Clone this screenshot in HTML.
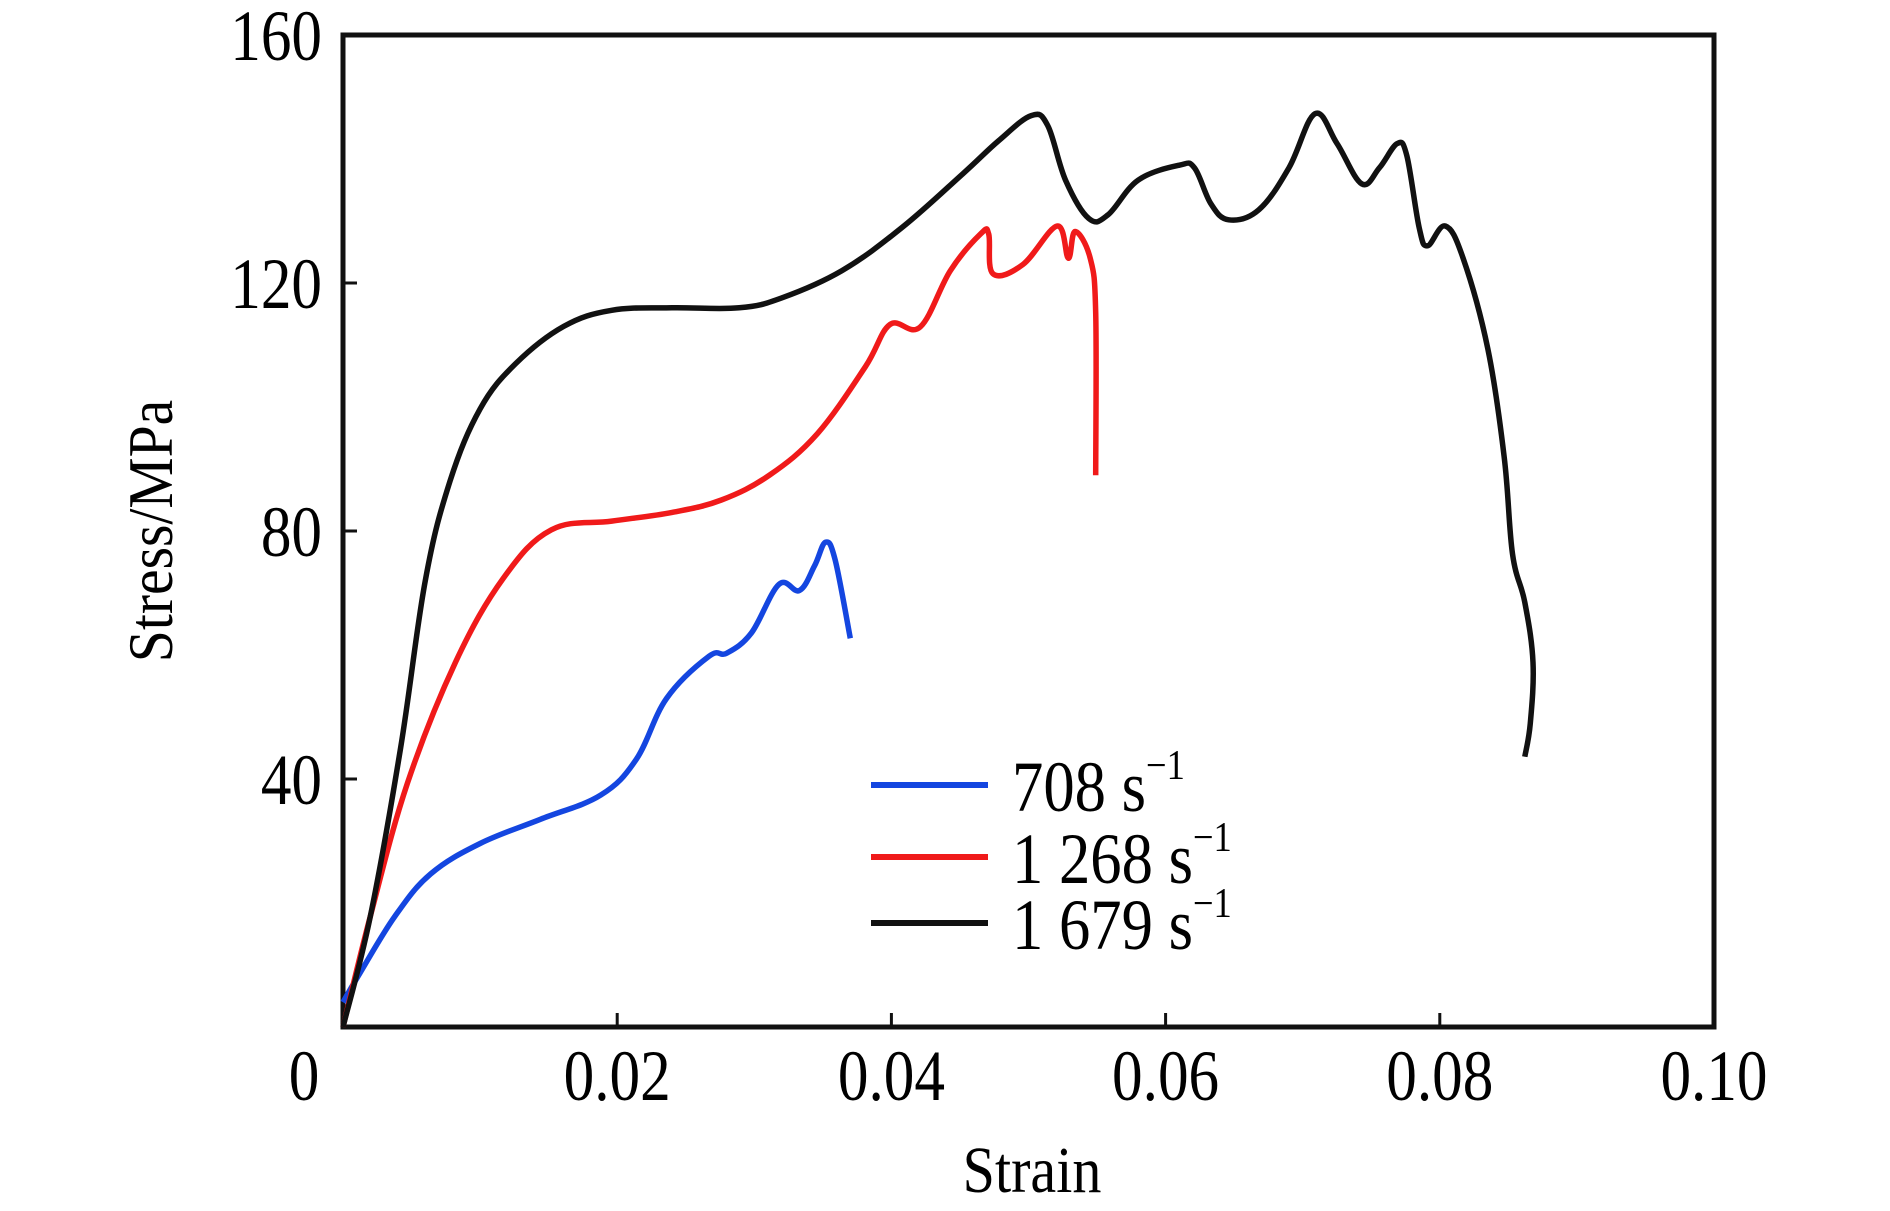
<!DOCTYPE html>
<html><head><meta charset="utf-8"><style>
html,body{margin:0;padding:0;background:#fff;}
svg{display:block;font-family:"Liberation Serif",serif;}
</style></head><body>
<svg id="chart" width="1890" height="1211" viewBox="0 0 1890 1211" xmlns="http://www.w3.org/2000/svg">
<g id="axes"></g>
<g id="series"></g>
<g id="legend"></g>
<text x="0" y="0" font-size="66" text-anchor="middle" transform="translate(1032,1192) scale(0.88,1)">Strain</text>
<text x="0" y="0" font-size="64" text-anchor="middle" transform="translate(172,531) rotate(-90) scale(0.9,1)">Stress/MPa</text>
</svg>
<script>
const xTicks=[0,0.02,0.04,0.06,0.08,0.10];
const xTickLabels=["0","0.02","0.04","0.06","0.08","0.10"];
const yTicks=[40,80,120,160];
const yTickLabels=["40","80","120","160"];
const seriesNames=["708 s","1 268 s","1 679 s"];
const seriesColors=["#1446e0","#f01a1a","#111111"];
const blueStrain=[0,0.0011,0.0038,0.0064,0.01,0.0144,0.0188,0.0214,0.0236,0.0267,0.028,0.0298,0.0318,0.0333,0.0344,0.0352,0.0359,0.037];
const blueStress=[4,8.2,17.9,24.7,29.6,33.5,37.4,43.2,53,59.8,60.3,63.6,71.4,70.4,74.4,78.2,75.3,62.7];
const redStrain=[0,0.002,0.0047,0.0082,0.0117,0.0152,0.0196,0.024,0.0276,0.0311,0.0346,0.0381,0.0399,0.0421,0.0443,0.0465,0.0471,0.0474,0.0496,0.0521,0.0529,0.0534,0.0545,0.0549,0.0549];
const redStress=[0,17.9,39.3,58.8,72.4,80.2,81.6,83,85,89,95.7,106.5,113.3,112.9,122,127.9,127.9,121.5,123,129.2,124,128.3,124,115.2,89];
const blackStrain=[0,0.002,0.0042,0.006,0.0078,0.01,0.0126,0.0161,0.0196,0.024,0.0289,0.032,0.0364,0.0408,0.0452,0.0478,0.0502,0.0514,0.0527,0.0544,0.0558,0.058,0.061,0.0621,0.0633,0.0646,0.0668,0.069,0.0709,0.0725,0.0743,0.0756,0.0769,0.0776,0.0785,0.0791,0.0804,0.0817,0.0835,0.0847,0.0853,0.0862,0.0868,0.0866,0.0862];
const blackStress=[0,17.9,45,72,88,99.7,107,113,115.6,116,116,117.6,122,129,137.6,142.9,147,145.4,136.6,130.4,131,136.6,139,138.6,132.8,130.2,131.8,138.6,147.3,142.5,136,138.6,142.5,140.5,128.9,126,129.2,124,109.4,91.9,76.3,68.5,58.8,49,43.6];

const NS="http://www.w3.org/2000/svg";
const L=343,R=1714,T=35,B=1027;
const sx=v=>L+v/0.1*(R-L);
const sy=v=>B-v/160*(B-T);
function mk(tag,attrs,parent){const e=document.createElementNS(NS,tag);for(const k in attrs)e.setAttribute(k,attrs[k]);parent.appendChild(e);return e;}
function smooth(P){
  let d='M'+P[0][0].toFixed(1)+','+P[0][1].toFixed(1);
  const t=0.18;
  for(let i=0;i<P.length-1;i++){
    const p0=P[Math.max(0,i-1)],p1=P[i],p2=P[i+1],p3=P[Math.min(P.length-1,i+2)];
    const c1=[p1[0]+(p2[0]-p0[0])*t,p1[1]+(p2[1]-p0[1])*t];
    const c2=[p2[0]-(p3[0]-p1[0])*t,p2[1]-(p3[1]-p1[1])*t];
    d+=' C'+c1.map(v=>v.toFixed(1)).join(',')+' '+c2.map(v=>v.toFixed(1)).join(',')+' '+p2.map(v=>v.toFixed(1)).join(',');
  }
  return d;
}
const axes=document.getElementById('axes');
const frame=mk('rect',{x:L,y:T,width:R-L,height:B-T,fill:'none',stroke:'#111',"stroke-width":5},axes);


xTicks.forEach((t,i)=>{
  const x=sx(t);
  if(i>0&&i<xTicks.length-1){const tk=mk('line',{x1:x,x2:x,y1:B,y2:B-14,stroke:'#111',"stroke-width":3},axes);
  
  }
  const tx=mk('text',{x:0,y:0,"font-size":72,"text-anchor":"middle",transform:'translate('+(i===0?x-39:x)+',1100) scale(0.85,1)'},axes);
  tx.textContent=xTickLabels[i];
  
  
});
yTicks.forEach((t,i)=>{
  const y=sy(t);
  if(t<160){const tk=mk('line',{x1:L,x2:L+14,y1:y,y2:y,stroke:'#111',"stroke-width":3},axes);
  
  }
  const tx=mk('text',{x:0,y:0,"font-size":72,"text-anchor":"end",transform:'translate(322,'+(y+25)+') scale(0.85,1)'},axes);
  tx.textContent=yTickLabels[i];
  
  
});
const ser=document.getElementById('series');
[[blueStrain,blueStress],[redStrain,redStress],[blackStrain,blackStress]].forEach((d,k)=>{
  const P=d[0].map((s,i)=>[sx(s),sy(d[1][i])]);
  const p=mk('path',{d:smooth(P),fill:'none',stroke:seriesColors[k],"stroke-width":5.5,"stroke-linejoin":"round","stroke-linecap":"butt"},ser);
  
  
});
const leg=document.getElementById('legend');
const legY=[785,857,923];
seriesNames.forEach((n,k)=>{
  const ln=mk('line',{x1:871,x2:988,y1:legY[k],y2:legY[k],stroke:seriesColors[k],"stroke-width":6},leg);
  
  
  const tx=mk('text',{x:0,y:0,"font-size":72,transform:'translate(1012,'+(legY[k]+26)+') scale(0.87,1)'},leg);
  tx.textContent=n;
  const sup=mk('tspan',{"font-size":42,dy:-32},tx);
  sup.textContent='\u22121';
  
  
});
</script>
</body></html>
